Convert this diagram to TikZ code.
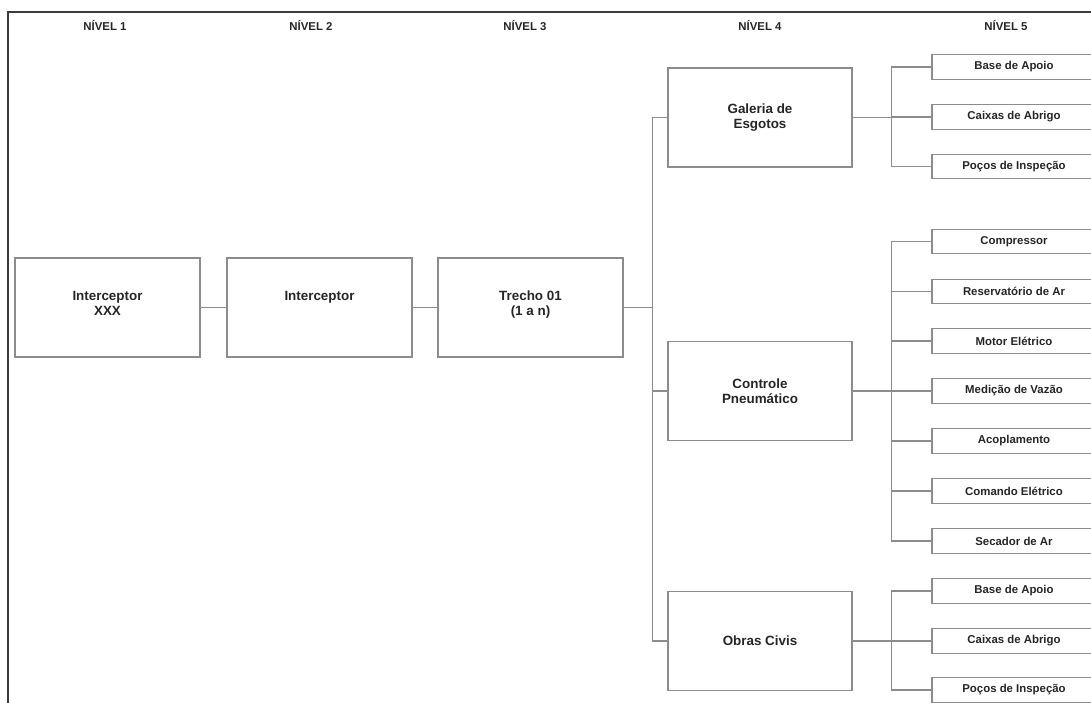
\documentclass[tikz,border=0pt]{standalone}
\usepackage{fontspec}
\setmainfont{Liberation Sans}
\usetikzlibrary{positioning}

\definecolor{linha}{HTML}{8C8C8C}
\definecolor{moldura}{HTML}{3A3A3A}
\definecolor{texto}{HTML}{262626}

\begin{document}
\begin{tikzpicture}[x=1pt, y=-1pt,
    caixa/.style={draw=linha, line width=1.1pt, minimum width=185pt, minimum height=99pt, inner sep=0pt},
    item/.style={draw=linha, line width=1.1pt, minimum width=164pt, minimum height=24.5pt, inner sep=0pt,
        text=texto, font=\fontsize{11.4}{13}\selectfont\bfseries},
    rotulo/.style={text=texto, align=center, inner sep=0pt, font=\fontsize{13.4}{15}\selectfont\bfseries},
    nivel/.style={text=texto, inner sep=0pt, font=\fontsize{11.4}{13}\selectfont\bfseries},
    liga/.style={draw=linha, line width=1.1pt}]
    \useasboundingbox (0,0) rectangle (1091,703);
    \fill[white] (0,0) rectangle (1091,703);

    % Moldura
    \draw[moldura, line width=1.3pt] (1095,12) -- (8,12) -- (8,707);

    % Cabecalho dos niveis
    \node[nivel] (n1) at (105,25.5) {NÍVEL 1};
    \node[nivel] (n2) at (311,25.5) {NÍVEL 2};
    \node[nivel] (n3) at (525,25.5) {NÍVEL 3};
    \node[nivel] (n4) at (760,25.5) {NÍVEL 4};
    \node[nivel] (n5) at (1006,25.5) {NÍVEL 5};

    % Niveis 1 a 3
    \node[caixa] (b1) at (107.5,307.5) {};
    \node[caixa] (b2) at (319.5,307.5) {};
    \node[caixa] (b3) at (530.5,307.5) {};
    \node[rotulo, anchor=north] (t1) at (107.5,291) {Interceptor\\XXX};
    \node[rotulo, anchor=north] (t2) at (319.5,291) {Interceptor};
    \node[rotulo, anchor=north] (t3) at (530.5,291) {Trecho 01\\(1 a n)};

    % Nivel 4
    \node[caixa, rotulo, minimum width=184pt] (g4) at (760,117.5) {Galeria de\\Esgotos};
    \node[caixa, rotulo, minimum width=184pt] (c4) at (760,391) {Controle\\Pneumático};
    \node[caixa, rotulo, minimum width=184pt] (o4) at (760,641) {Obras Civis};

    % Nivel 5
    \node[item] (g5a) at (1014,67) {Base de Apoio};
    \node[item] (g5b) at (1014,117) {Caixas de Abrigo};
    \node[item] (g5c) at (1014,166.5) {Poços de Inspeção};

    \node[item] (c5a) at (1014,241.5) {Compressor};
    \node[item] (c5b) at (1014,291.5) {Reservatório de Ar};
    \node[item] (c5c) at (1014,341) {Motor Elétrico};
    \node[item] (c5d) at (1014,391) {Medição de Vazão};
    \node[item] (c5e) at (1014,441) {Acoplamento};
    \node[item] (c5f) at (1014,491) {Comando Elétrico};
    \node[item] (c5g) at (1014,541) {Secador de Ar};

    \node[item] (o5a) at (1014,591) {Base de Apoio};
    \node[item] (o5b) at (1014,641) {Caixas de Abrigo};
    \node[item] (o5c) at (1014,690) {Poços de Inspeção};

    % Ligacoes
    \draw[liga] (b1) -- (b2);
    \draw[liga] (b2) -- (b3);
    \coordinate[right=29pt of b3.east] (j3);
    \draw[liga] (b3) -- (j3);
    \foreach \n in {g4,c4,o4}
        \draw[liga] (j3) |- (\n.west);

    \coordinate[right=39pt of g4.east] (jg);
    \coordinate[right=39pt of c4.east] (jc);
    \coordinate[right=39pt of o4.east] (jo);
    \draw[liga] (g4) -- (jg);
    \draw[liga] (c4) -- (jc);
    \draw[liga] (o4) -- (jo);
    \foreach \n in {g5a,g5b,g5c}
        \draw[liga] (jg) |- (\n.west);
    \foreach \n in {c5a,c5b,c5c,c5d,c5e,c5f,c5g}
        \draw[liga] (jc) |- (\n.west);
    \foreach \n in {o5a,o5b,o5c}
        \draw[liga] (jo) |- (\n.west);

\end{tikzpicture}
\end{document}
